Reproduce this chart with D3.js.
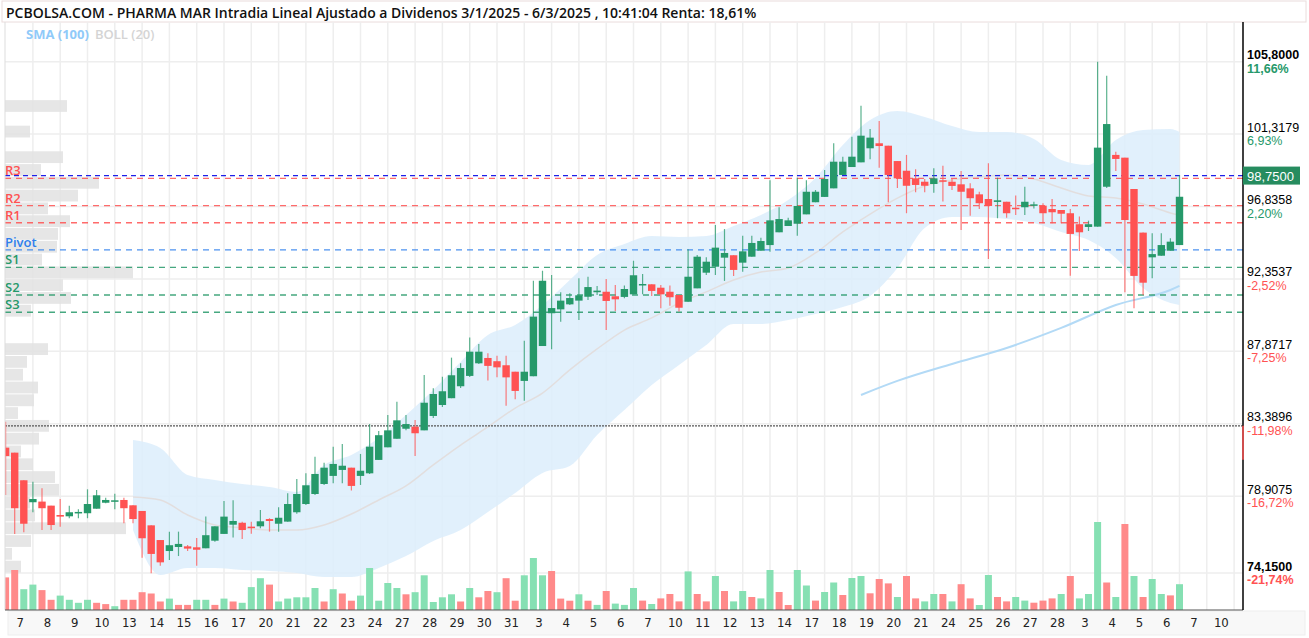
<!DOCTYPE html>
<html>
<head>
<meta charset="utf-8">
<script src="https://cdn.jsdelivr.net/npm/d3@7/dist/d3.min.js"></script>
<style>
  body { margin: 0; background: #fff; }
  svg { display: block; font-family: "Open Sans", "Noto Sans", sans-serif; }
</style>
</head>
<body>
<svg id="chart" width="1309" height="638"></svg>
<script>
// ---- datos ----
const dayLabels = ["7","8","9","10","13","14","15","16","17","20","21","22","23","24","27","28","29","30","31",
  "3","4","5","6","7","10","11","12","13","14","17","18","19","20","21","24","25","26","27","28",
  "3","4","5","6","7","10"];

// velas intradia (3 por sesion), slot 0 = ultima vela de la sesion anterior
const opens = [81.91,81.60,79.89,78.53,78.57,78.32,77.74,77.66,77.87,77.85,78.13,78.50,78.63,78.67,78.34,77.99,77.10,76.19,75.51,75.76,
  75.80,75.74,75.68,76.15,76.57,77.14,77.26,77.02,77.04,77.49,77.20,77.33,77.91,78.42,79.04,79.66,80.16,80.53,80.67,80.16,
  80.32,81.15,81.93,82.46,83.08,83.21,82.98,83.87,84.55,84.97,85.71,86.35,87.13,87.46,87.26,87.01,86.61,86.04,86.33,88.20,
  90.23,90.47,90.78,91.01,91.25,91.53,91.56,91.28,91.24,91.40,92.00,92.02,91.81,91.56,91.36,90.94,91.77,92.74,93.11,93.67,
  93.82,93.36,93.73,94.10,94.45,95.24,95.63,95.77,96.35,97.10,97.43,97.96,98.79,99.28,99.57,100.44,100.75,100.60,99.65,99.05,
  98.58,98.37,98.23,98.46,98.37,98.21,97.96,97.59,97.30,97.12,97.13,96.76,96.79,96.91,96.89,96.68,96.62,96.42,95.74,95.57,
  95.59,98.06,100.03,99.86,97.92,95.22,93.69,93.79,94.10,94.45];
const highs = [83.52,81.60,79.89,79.80,79.39,78.32,78.73,78.32,78.09,79.33,79.29,78.81,79.06,78.81,78.34,77.99,77.10,76.19,76.71,76.71,
  75.88,76.32,77.64,77.04,78.61,78.65,77.32,77.32,78.05,77.54,78.22,79.08,79.97,80.32,81.35,80.98,81.97,82.14,80.67,81.52,
  83.37,82.94,83.93,84.75,83.93,83.62,86.41,85.58,86.30,87.48,87.13,88.72,88.33,87.75,87.60,87.60,86.61,88.53,92.24,92.86,
  92.60,91.53,91.46,92.39,92.49,91.92,92.35,91.98,91.94,93.48,92.66,92.02,91.98,91.94,91.36,94.19,93.84,93.69,95.69,95.44,
  93.82,95.03,95.03,94.91,98.46,96.79,96.14,98.62,98.46,97.86,99.10,100.75,99.92,101.16,103.08,101.63,102.13,100.60,99.65,100.03,
  99.14,98.54,99.20,99.36,98.54,99.03,98.27,97.75,99.51,98.62,97.13,97.51,98.06,97.13,97.04,97.30,96.62,96.68,96.21,95.96,
  105.80,104.93,100.23,99.86,97.92,95.22,95.18,95.18,94.87,98.79];
const lows = [78.98,76.57,76.67,77.91,76.81,76.81,77.02,77.54,77.54,77.54,78.13,78.46,78.09,77.23,77.23,75.10,74.13,74.60,74.96,75.20,
  75.51,74.60,75.68,76.09,76.57,76.34,76.26,76.58,76.92,76.71,76.71,77.33,77.82,78.36,78.98,79.60,79.70,79.70,79.25,79.60,
  80.28,81.15,81.93,82.46,82.98,81.39,82.98,83.75,84.43,84.97,85.60,86.28,87.09,86.06,86.26,84.51,84.90,84.82,86.33,88.20,
  88.00,89.71,90.74,89.81,91.05,91.36,89.19,90.37,91.16,91.40,91.40,91.30,90.54,90.70,90.33,90.94,91.77,92.60,92.60,92.23,
  92.54,92.80,93.73,94.10,94.04,95.24,95.63,95.03,96.35,97.10,97.43,97.96,98.79,99.28,99.57,99.76,99.24,97.10,97.98,96.42,
  97.72,97.72,97.69,97.14,97.86,95.38,96.27,96.68,93.59,96.11,96.14,96.31,96.31,96.72,95.80,95.80,95.80,92.55,94.08,95.32,
  95.59,97.98,99.03,91.53,90.54,91.36,92.39,93.79,94.10,94.45];
const closes = [81.39,78.16,77.20,78.73,78.16,77.12,77.64,77.91,77.93,78.42,78.96,78.67,78.65,78.16,77.49,76.30,75.33,74.81,75.87,75.95,
  75.66,75.59,76.49,77.04,77.64,77.37,76.81,76.96,77.35,77.37,77.57,78.42,79.04,79.58,80.28,80.67,80.90,80.79,79.54,80.48,
  81.97,82.68,82.98,83.60,83.37,82.80,84.69,85.23,85.40,86.39,86.84,87.85,87.85,86.97,86.88,86.26,85.42,86.61,90.02,92.24,
  90.55,91.01,91.17,91.34,91.85,91.63,90.99,91.09,91.73,92.58,92.04,91.61,91.40,91.22,90.57,92.49,93.73,93.42,94.29,93.96,
  92.91,94.06,94.58,94.70,95.98,96.06,95.98,96.87,97.75,97.75,98.54,99.61,99.61,99.92,101.22,101.10,100.58,98.79,98.58,98.12,
  98.17,98.12,98.58,98.37,98.11,97.75,97.35,97.04,96.87,97.22,96.42,96.70,97.13,96.97,96.42,96.48,96.39,95.14,95.24,95.74,
  100.48,101.94,99.78,96.00,92.54,92.12,93.89,94.45,94.66,97.44];
// volumen (miles de titulos, aprox.)
const volumes = [326,400,208,254,199,102,144,102,72,102,72,59,38,102,102,178,165,85,114,51,
  51,102,102,51,114,85,72,229,318,254,85,114,127,127,220,85,208,165,93,144,
  420,93,270,220,157,178,347,80,127,157,85,220,127,190,178,318,93,347,520,347,
  390,114,93,157,93,51,190,64,51,220,94,60,116,160,86,386,160,86,340,190,
  86,190,130,116,400,180,50,400,245,94,180,275,150,320,340,167,310,266,130,340,
  116,86,160,160,86,258,116,50,350,130,86,130,94,73,94,116,160,340,116,160,
  880,275,130,860,340,130,310,160,146,258];
// color de cada barra de volumen (1 = verde, 0 = rojo)
const volUp = [0,0,1,1,0,0,1,1,1,1,0,0,1,0,0,0,0,0,1,0,
  0,1,1,0,1,0,1,1,1,0,1,1,1,1,1,0,1,0,0,1,
  1,1,1,1,0,1,1,1,1,1,0,1,0,0,1,0,0,1,1,1,
  0,0,0,1,0,1,0,1,1,1,0,1,0,0,0,1,0,0,1,0,
  1,1,0,1,1,0,0,1,1,0,1,1,0,1,1,0,0,0,1,0,
  0,1,1,0,1,0,0,1,1,0,0,1,1,0,0,0,1,0,1,1,
  1,0,1,0,1,0,1,1,0,1];

// Bandas de Bollinger (20) y media, leidas por sesion
const bollSlots = [14,17,20,23,26,29,32,35,38,41,44,47,50,53,56,59,62,65,68,71,74,77,80,83,86,89,92,95,98,101,104,107,110,113,116,119,122,125,128,129];
const bollUpper = [82.38,81.89,80.22,79.91,79.66,79.47,79.17,80.84,81.46,82.51,83.93,85.48,87.21,88.88,89.50,90.74,92.29,93.84,94.52,95.01,
  94.95,95.01,95.63,96.31,97.24,98.60,100.64,102.19,102.75,102.38,101.82,101.45,101.45,101.02,99.72,99.41,100.95,101.57,101.63,101.45];
const bollLower = [76.81,74.03,74.46,74.46,74.34,74.28,74.15,73.90,73.90,74.46,75.20,76.13,76.81,77.93,79.10,80.34,80.77,82.69,84.24,85.79,
  87.03,88.26,89.56,89.56,89.81,90.18,90.62,91.30,93.03,95.51,96.19,96.19,96.06,95.82,95.26,94.76,93.65,91.79,90.86,90.74];
const bollMid = [78.86,78.67,77.74,77.12,76.94,76.81,76.81,77.12,77.80,78.67,79.54,80.84,82.07,83.19,84.36,85.29,86.72,88.02,89.19,89.94,
  90.86,91.55,92.29,92.78,93.03,93.96,95.26,96.37,97.36,98.11,98.48,98.66,98.79,98.54,97.98,97.49,97.36,96.99,96.44,96.31];

// SMA (100)
const smaSlots = [94,98,104,110,116,122,128,129];
const smaValues = [85.17,86.04,87.09,88.08,89.32,90.74,91.67,91.92];

// pivotes
const pivotNames = ["R3","R2","R1","Pivot","S1","S2","S3"];
const pivotValues = [98.58,96.89,95.83,94.15,93.07,91.36,90.29];
const pivotColors = ["#ff5252","#ff5252","#ff5252","#2f80ed","#26996a","#26996a","#26996a"];

const lastPrice = 98.75;
const startPrice = 83.26;

// eje de precios
const priceTicks = [105.8,101.3179,96.8358,92.3537,87.8717,83.3896,78.9075,74.15];
const pctLabels = ["11,66%","6,93%","2,20%","-2,52%","-7,25%","-11,98%","-16,72%","-21,74%"];

// perfil de volumen por precio (de abajo a arriba)
const profileBase = 74.15, profileStep = 0.792;
const profileVol = [160,70,260,1210,300,250,540,500,280,160,340,440,130,290,330,180,220,430,0,0,
  260,660,580,1280,370,520,530,650,430,730,940,360,580,0,250,0,620];

// ---- dibujo ----
const svg = d3.select("#chart");
const plotL = 5, plotR = 1243, plotT = 22, plotB = 610;
const green = "#26996a", red = "#ff5252";

const x = d3.scaleLinear().domain([0, 135]).range([5.6, 1234.1]);
const y = d3.scaleLinear().domain([74.15, 105.8]).range([573, 61.7]);
const yv = d3.scaleLinear().domain([0, 900]).range([plotB, plotB - 90]);
const xp = d3.scaleLinear().domain([0, 1280]).range([plotL, plotL + 128]);

svg.append("defs").append("clipPath").attr("id", "plot")
  .append("rect").attr("x", plotL).attr("y", plotT).attr("width", plotR - plotL).attr("height", plotB - plotT);

// titulo
svg.append("rect").attr("x", 2).attr("y", 1).attr("width", 1304).attr("height", 21)
  .attr("fill", "#fff").attr("stroke", "#eadcdc");
svg.append("text").attr("x", 6).attr("y", 18)
  .attr("font-size", 14).attr("font-weight", 600).attr("fill", "#111")
  .text("PCBOLSA.COM - PHARMA MAR Intradia Lineal Ajustado a Dividenos 3/1/2025 - 6/3/2025 , 10:41:04 Renta: 18,61%");

const g = svg.append("g").attr("clip-path", "url(#plot)");

// rejilla
g.selectAll(".vgrid").data(d3.range(dayLabels.length)).enter().append("line")
  .attr("x1", d => x(d * 3 + 3)).attr("x2", d => x(d * 3 + 3))
  .attr("y1", plotT).attr("y2", plotB)
  .attr("stroke", "#eeeeee").attr("stroke-width", 1.5);
g.selectAll(".hgrid").data(priceTicks).enter().append("line")
  .attr("x1", plotL).attr("x2", plotR)
  .attr("y1", d => y(d)).attr("y2", d => y(d))
  .attr("stroke", "#eeeeee").attr("stroke-width", 1.5);

// perfil de volumen
g.selectAll(".prof").data(profileVol).enter().append("rect")
  .attr("x", plotL)
  .attr("y", (d, j) => y(profileBase + profileStep * (j + 1)) + 0.5)
  .attr("width", d => xp(d) - plotL)
  .attr("height", (d, j) => y(profileBase + profileStep * j) - y(profileBase + profileStep * (j + 1)) - 1)
  .attr("fill", "#e2e2e2").attr("opacity", 0.85);

// bollinger
const boll = bollSlots.map((s, i) => ({ s: s, up: bollUpper[i], lo: bollLower[i], mid: bollMid[i] }));
g.append("path").datum(boll)
  .attr("d", d3.area().x(d => x(d.s)).y0(d => y(d.lo)).y1(d => y(d.up)).curve(d3.curveMonotoneX))
  .attr("fill", "#dcedfb").attr("opacity", 0.85);
g.append("path").datum(boll)
  .attr("d", d3.line().x(d => x(d.s)).y(d => y(d.mid)).curve(d3.curveMonotoneX))
  .attr("fill", "none").attr("stroke", "#e2dede").attr("stroke-width", 1.5);

// sma 100
g.append("path").datum(smaSlots.map((s, i) => ({ s: s, v: smaValues[i] })))
  .attr("d", d3.line().x(d => x(d.s)).y(d => y(d.v)).curve(d3.curveMonotoneX))
  .attr("fill", "none").attr("stroke", "#b3daf6").attr("stroke-width", 2);

const candles = d3.range(opens.length).map(i => ({
  i: i, o: opens[i], h: highs[i], l: lows[i], c: closes[i], v: volumes[i],
  up: closes[i] >= opens[i], vup: volUp[i] === 1
}));

// volumen
g.selectAll(".vol").data(candles).enter().append("rect")
  .attr("x", d => x(d.i) - 3.5).attr("width", 7)
  .attr("y", d => yv(d.v)).attr("height", d => plotB - yv(d.v))
  .attr("fill", d => d.vup ? "#86e0b3" : "#ff8a8a");

// linea de inicio (renta)
g.append("line").attr("x1", plotL).attr("x2", plotR)
  .attr("y1", y(startPrice)).attr("y2", y(startPrice))
  .attr("stroke", "#555").attr("stroke-dasharray", "2,1").attr("stroke-width", 1.2);

// pivotes
g.selectAll(".piv").data(pivotValues).enter().append("line")
  .attr("x1", plotL).attr("x2", plotR)
  .attr("y1", d => y(d)).attr("y2", d => y(d))
  .attr("stroke", (d, i) => pivotColors[i]).attr("stroke-width", 1.3)
  .attr("stroke-dasharray", "6,5").attr("opacity", 0.85);
g.append("line").attr("x1", plotL).attr("x2", plotR)
  .attr("y1", y(lastPrice)).attr("y2", y(lastPrice))
  .attr("stroke", "#1f1fe8").attr("stroke-width", 1.3).attr("stroke-dasharray", "5,4");

// velas
const cg = g.selectAll(".candle").data(candles).enter().append("g");
cg.append("line")
  .attr("x1", d => x(d.i)).attr("x2", d => x(d.i))
  .attr("y1", d => y(d.h)).attr("y2", d => y(d.l))
  .attr("stroke", d => d.up ? green : red).attr("stroke-width", 1.2).attr("opacity", 0.75);
cg.append("rect")
  .attr("x", d => x(d.i) - 3.7).attr("width", 7.4)
  .attr("y", d => y(Math.max(d.o, d.c)))
  .attr("height", d => Math.max(1.5, Math.abs(y(d.o) - y(d.c))))
  .attr("fill", d => d.up ? green : red);

// etiquetas de pivotes
svg.selectAll(".pivlab").data(pivotNames).enter().append("text")
  .attr("x", 5).attr("y", (d, i) => y(pivotValues[i]) - 3)
  .attr("font-size", 13).attr("font-weight", 600)
  .attr("fill", (d, i) => pivotColors[i]).text(d => d);

// leyenda
svg.append("text").attr("x", 26).attr("y", 39).attr("font-size", 13).attr("font-weight", 700)
  .attr("fill", "#90caf9").text("SMA (100)");
svg.append("text").attr("x", 95).attr("y", 39).attr("font-size", 13).attr("font-weight", 600)
  .attr("fill", "#d4d4d4").text("BOLL (20)");

// marco
svg.append("line").attr("x1", plotL).attr("x2", plotL).attr("y1", plotT).attr("y2", plotB)
  .attr("stroke", "#dddddd");
svg.append("rect").attr("x", 8).attr("y", plotB + 1).attr("width", 1297).attr("height", 24)
  .attr("fill", "#f8f8f8").attr("stroke", "#eeeeee");
svg.append("line").attr("x1", plotL).attr("x2", plotR).attr("y1", plotB).attr("y2", plotB)
  .attr("stroke", "#555").attr("stroke-width", 1.2);

// eje derecho
const fmt = d => d3.format(".4f")(d).replace(".", ",");
const ax = svg.append("g").attr("transform", "translate(" + plotR + ",0)")
  .call(d3.axisRight(y).tickValues(priceTicks).tickSize(0).tickPadding(4).tickFormat(fmt));
ax.select(".domain").attr("stroke", "#000").attr("stroke-width", 1.5).attr("d", "M0," + plotT + "V" + plotB);
ax.selectAll("text").attr("dy", null).attr("y", d => -3)
  .attr("font-family", "'Liberation Sans', Arial, sans-serif").attr("font-size", 12.5)
  .attr("fill", "#000")
  .attr("font-weight", (d, i) => (i === 0 || i === priceTicks.length - 1) ? 700 : 400);
svg.selectAll(".pct").data(priceTicks).enter().append("text")
  .attr("x", plotR + 4).attr("y", d => y(d) + 11)
  .attr("font-family", "'Liberation Sans', Arial, sans-serif").attr("font-size", 12.5)
  .attr("font-weight", (d, i) => (i === 0 || i === priceTicks.length - 1) ? 700 : 400)
  .attr("fill", (d, i) => pctLabels[i][0] === "-" ? "#ff5252" : "#26996a")
  .text((d, i) => pctLabels[i]);
svg.append("line").attr("x1", plotR).attr("x2", plotR)
  .attr("y1", y(startPrice)).attr("y2", y(startPrice) + 34)
  .attr("stroke", "#ff5252").attr("stroke-width", 1.5);

// precio actual
svg.append("rect").attr("x", plotR).attr("y", y(lastPrice) - 9).attr("width", 57).attr("height", 18)
  .attr("fill", "#268c5f");
svg.append("text").attr("x", plotR + 4).attr("y", y(lastPrice) + 5)
  .attr("font-family", "'Liberation Sans', Arial, sans-serif").attr("font-size", 13)
  .attr("fill", "#fff").text(fmt(lastPrice));

// eje inferior (dias)
svg.selectAll(".day").data(dayLabels).enter().append("text")
  .attr("x", (d, i) => x(i * 3 + 1.6)).attr("y", 627)
  .attr("text-anchor", "middle")
  .attr("font-family", "'Liberation Sans Narrow', 'DejaVu Sans Condensed', sans-serif")
  .attr("font-size", 13).attr("fill", "#222")
  .text(d => d);
</script>
</body>
</html>
